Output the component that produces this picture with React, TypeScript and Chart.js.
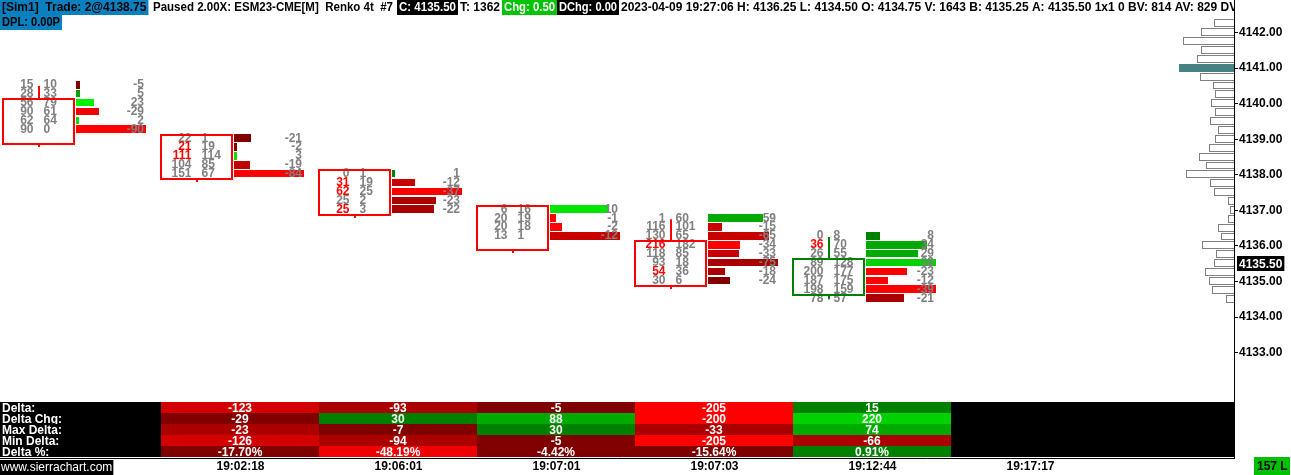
import React, { useEffect, useRef } from 'react';
import { Chart, registerables } from 'chart.js';

Chart.register(...registerables);

// ---------------- data ----------------
const timeLabels = ['19:02:18', '19:06:01', '19:07:01', '19:07:03', '19:12:44', '19:17:17'];
const timeSlots = [1, 2, 3, 4, 5, 6];

const barHigh = [4140.5, 4139.0, 4138.0, 4137.0, 4136.75, 4136.25];
const barOpen = [4140.0, 4139.0, 4138.0, 4137.0, 4136.0, 4134.75];
const barClose = [4139.0, 4138.0, 4137.0, 4136.0, 4135.0, 4135.5];

const bidVolume = [
  [15, 28, 56, 90, 62, 90],
  [22, 21, 111, 104, 151],
  [0, 31, 62, 25, 25],
  [6, 20, 20, 13],
  [1, 116, 130, 216, 118, 93, 54, 30],
  [0, 36, 26, 89, 200, 187, 198, 78],
];
const askVolume = [
  [10, 33, 79, 61, 64, 0],
  [1, 19, 114, 85, 67],
  [1, 19, 25, 2, 3],
  [16, 19, 18, 1],
  [60, 101, 65, 182, 85, 18, 36, 6],
  [8, 70, 55, 128, 177, 175, 159, 57],
];

const tableRowLabels = ['Delta:', 'Delta Chg:', 'Max Delta:', 'Min Delta:', 'Delta %:'];
const tableSlots = [1, 2, 3, 4, 5];
const deltaRow = [-123, -93, -5, -205, 15];
const deltaChgRow = [-29, 30, 88, -200, 220];
const maxDeltaRow = [-23, -7, 30, -33, 74];
const minDeltaRow = [-126, -94, -5, -205, -66];
const deltaPctRow = [-17.7, -48.19, -4.42, -15.64, 0.91];

const profileTop = 4142.25;
const profileVolume = [20, 33, 51, 33, 37, 55, 34, 21, 19, 23, 19, 24, 16, 19, 25, 35, 28, 48, 24, 20, 6, 4, 6, 16, 13, 32, 18, 20, 29, 25, 22, 8];
const profilePoc = 4141.0;

const lastPrice = 4135.5;
const lowestPriceLabel = 4133;

// ---------------- styles ----------------
const histColors = [
  ['#800000', '#00a000', '#00f000', '#f00000', '#00e000', '#ff0000'],
  ['#800000', '#800000', '#00e600', '#c00000', '#ff0000'],
  ['#008000', '#c80000', '#ff0000', '#aa0000', '#aa0000'],
  ['#00e600', '#ff0000', '#ff0000', '#c80000'],
  ['#00aa00', '#c80000', '#c80000', '#ff0000', '#c80000', '#aa0000', '#aa0000', '#800000'],
  ['#008000', '#00aa00', '#00aa00', '#00d200', '#ff0000', '#ff0000', '#ff0000', '#aa0000'],
];
const tableColors = [
  ['#d20000', '#aa0000', '#800000', '#ff0000', '#008000'],
  ['#800000', '#008000', '#00aa00', '#ff0000', '#00d200'],
  ['#aa0000', '#800000', '#008000', '#aa0000', '#00aa00'],
  ['#d20000', '#aa0000', '#800000', '#ff0000', '#aa0000'],
  ['#800000', '#f00000', '#800000', '#800000', '#008000'],
];

const FONT = '"Liberation Sans", Arial, sans-serif';
const GRAY = '#808080';
const TICK = 0.25;
const HALF = TICK / 2;
const SLOT = 158;
const BOX_L = -36 / SLOT;
const BOX_R = 35 / SLOT;
const BID_R = -5.5 / SLOT;
const ASK_L = 4.5 / SLOT;
const HIST_L = 37 / SLOT;
const HIST_W = 70 / SLOT;
const DELTA_R = 105 / SLOT;
const CELL_L = -36 / SLOT;
const LABEL_OFF = 43.5 / SLOT;

const header1 = [
  { text: '[Sim1]  Trade: 2@4138.75', x: 2, w: 145, bg: '#0a80c0', fg: '#000' },
  { text: 'Paused 2.00X: ESM23-CME[M]  Renko 4t  #7', x: 153, w: 240, bg: null, fg: '#000' },
  { text: 'C: 4135.50', x: 399, w: 57, bg: '#000', fg: '#fff' },
  { text: 'T: 1362', x: 460, w: 41, bg: null, fg: '#000' },
  { text: 'Chg: 0.50', x: 504, w: 51, bg: '#00c400', fg: '#fff' },
  { text: 'DChg: 0.00', x: 559, w: 58, bg: '#000', fg: '#fff' },
  { text: '2023-04-09 19:27:06 H: 4136.25 L: 4134.50 O: 4134.75 V: 1643 B: 4135.25 A: 4135.50 1x1 0 BV: 814 AV: 829 DV: 15', x: 621, w: 700, bg: null, fg: '#000' },
];
const header2 = [{ text: 'DPL: 0.00P', x: 2, w: 58, bg: '#0a80c0', fg: '#000' }];

const footprintPlugin = {
  id: 'footprint',
  afterDraw(chart: any) {
    const { ctx, chartArea: ca, scales } = chart;
    const xs = scales.x, ys = scales.y, xp = scales.xp;
    const X = (v: number) => xs.getPixelForValue(v);
    const Y = (v: number) => ys.getPixelForValue(v);

    ctx.save();
    ctx.beginPath();
    ctx.rect(ca.left, ca.top, ca.right - ca.left, ca.bottom - ca.top);
    ctx.clip();

    // volume profile
    ctx.lineWidth = 1;
    profileVolume.forEach((v, j) => {
      const p = profileTop - j * TICK;
      const top = Math.round(Y(p + HALF));
      const bot = Math.round(Y(p - HALF)) - 1;
      const r = Math.round(xp.getPixelForValue(0));
      const l = Math.round(xp.getPixelForValue(v));
      if (Math.abs(p - profilePoc) < 1e-6) {
        ctx.fillStyle = '#468282';
        ctx.fillRect(l, top, r - l, bot - top);
      } else {
        ctx.fillStyle = '#fff';
        ctx.fillRect(l, top, r - l, bot - top);
        ctx.strokeStyle = '#808080';
        ctx.strokeRect(l + 0.5, top + 0.5, r - l, bot - top - 1);
      }
    });

    ctx.font = `bold 12px ${FONT}`;
    ctx.textBaseline = 'middle';

    bidVolume.forEach((bids, i) => {
      const asks = askVolume[i];
      const deltas = bids.map((b, j) => asks[j] - b);
      const maxAbs = Math.max(...deltas.map((d) => Math.abs(d)));
      // histogram
      deltas.forEach((d, j) => {
        const p = barHigh[i] - j * TICK;
        const top = Math.round(Y(p + HALF) - 0.5);
        const bot = Math.round(Y(p - HALF) - 1.8);
        const l = Math.round(X(i + HIST_L));
        let r = Math.round(X(i + HIST_L + (HIST_W * Math.abs(d)) / maxAbs));
        if (r - l < 3) r = l + 3;
        ctx.fillStyle = histColors[i][j];
        ctx.fillRect(l, top, r - l, bot - top);
      });
      // delta text
      ctx.fillStyle = GRAY;
      ctx.textAlign = 'right';
      deltas.forEach((d, j) => {
        const p = barHigh[i] - j * TICK;
        ctx.fillText(String(d), X(i + DELTA_R), Y(p) - 1);
      });
      // bid x ask
      bids.forEach((b, j) => {
        const p = barHigh[i] - j * TICK;
        const imb = j > 0 && b > 0 && b >= 3 * asks[j - 1];
        ctx.textAlign = 'right';
        ctx.fillStyle = imb ? '#ff0000' : GRAY;
        ctx.fillText(String(b), X(i + BID_R), Y(p) - 1);
        ctx.textAlign = 'left';
        ctx.fillStyle = GRAY;
        ctx.fillText(String(asks[j]), X(i + ASK_L), Y(p) - 1);
      });
      // box + wick
      const up = barClose[i] > barOpen[i];
      const color = up ? '#008000' : '#ff0000';
      const hi = Math.max(barOpen[i], barClose[i]) + HALF;
      const lo = Math.min(barOpen[i], barClose[i]) - HALF;
      const l = Math.round(X(i + BOX_L));
      const r = Math.round(X(i + BOX_R));
      const t = Math.round(Y(hi));
      const b = Math.round(Y(lo));
      ctx.strokeStyle = color;
      ctx.lineWidth = 2;
      ctx.strokeRect(l, t, r - l, b - t);
      const cx = Math.round(X(i));
      const yHigh = Y(barHigh[i]);
      const yLow = Y(barHigh[i] - (bids.length - 1) * TICK);
      ctx.beginPath();
      if (yHigh < t) {
        ctx.moveTo(cx, yHigh);
        ctx.lineTo(cx, t);
      }
      ctx.moveTo(cx, b);
      ctx.lineTo(cx, Math.max(yLow, b + 3));
      ctx.stroke();
    });

    // table
    const rows = [deltaRow, deltaChgRow, maxDeltaRow, minDeltaRow, deltaPctRow];
    const rowH = 11;
    const tBot = Math.round(ca.bottom) - 1;
    const tTop = tBot - rowH * rows.length;
    ctx.fillStyle = '#000';
    ctx.fillRect(ca.left, tTop, ca.right - ca.left, tBot - tTop);
    rows.forEach((vals, ri) => {
      const y0 = tTop + ri * rowH;
      vals.forEach((_v, c) => {
        const slot = tableSlots[c];
        const l = Math.round(X(slot + CELL_L));
        const r = Math.round(X(slot + 1 + CELL_L));
        ctx.fillStyle = tableColors[ri][c];
        ctx.fillRect(l, y0, r - l, rowH);
      });
      ctx.save();
      ctx.beginPath();
      ctx.rect(ca.left, y0, ca.right - ca.left, rowH);
      ctx.clip();
      ctx.fillStyle = '#fff';
      ctx.font = `bold 12px ${FONT}`;
      ctx.textBaseline = 'middle';
      ctx.textAlign = 'left';
      ctx.fillText(tableRowLabels[ri], ca.left + 2, y0 + rowH / 2 + 1);
      ctx.textAlign = 'center';
      vals.forEach((v, c) => {
        const slot = tableSlots[c];
        const cxm = (X(slot + CELL_L) + X(slot + 1 + CELL_L)) / 2;
        const txt = ri === 4 ? v.toFixed(2) + '%' : String(v);
        ctx.fillText(txt, cxm, y0 + rowH / 2 + 1);
      });
      ctx.restore();
    });

    // header
    ctx.font = `bold 12px ${FONT}`;
    ctx.textBaseline = 'middle';
    ctx.textAlign = 'left';
    const drawHeader = (segs: any[], yTop: number) => {
      segs.forEach((s) => {
        const w = Math.min(ctx.measureText(s.text).width, s.w);
        if (s.bg) {
          ctx.fillStyle = s.bg;
          ctx.fillRect(s.x - 2, yTop, w + 4, 15);
        }
        ctx.fillStyle = s.fg;
        ctx.fillText(s.text, s.x, yTop + 8, s.w);
      });
    };
    drawHeader(header1, 0);
    drawHeader(header2, 15);
    ctx.restore();

    // last price marker on the axis
    ctx.save();
    ctx.font = `bold 12px ${FONT}`;
    ctx.textBaseline = 'middle';
    ctx.textAlign = 'left';
    const yp = Y(lastPrice);
    const lbl = lastPrice.toFixed(2);
    const lw = ctx.measureText(lbl).width;
    ctx.fillStyle = '#000';
    ctx.fillRect(ca.right + 3, Math.round(yp - 7.5), lw + 4, 15);
    ctx.fillStyle = '#fff';
    ctx.fillText(lbl, ca.right + 5, yp + 0.5);

    // watermark
    ctx.font = `12px ${FONT}`;
    const wm = 'www.sierrachart.com';
    const ww = ctx.measureText(wm).width;
    ctx.fillStyle = '#000';
    ctx.fillRect(0, 460, ww + 2, 15);
    ctx.fillStyle = '#fff';
    ctx.fillText(wm, 1, 468);

    // status box
    ctx.font = `bold 12px ${FONT}`;
    ctx.fillStyle = '#00c000';
    ctx.fillRect(1254, 457, 36, 18);
    ctx.fillStyle = '#000';
    ctx.fillText('157 L', 1257, 466.5);
    ctx.restore();
  },
};

Chart.defaults.font.family = FONT;

export default function App() {
  const ref = useRef<HTMLCanvasElement>(null);
  useEffect(() => {
    const canvas = ref.current as HTMLCanvasElement;
    const chart = new Chart(canvas, {
      type: 'scatter',
      data: { datasets: [] },
      options: {
        animation: false,
        responsive: false,
        devicePixelRatio: 1,
        events: [],
        layout: { padding: 0 },
        plugins: { legend: { display: false }, tooltip: { enabled: false } },
        scales: {
          x: {
            type: 'linear',
            position: 'bottom',
            min: -39 / SLOT,
            max: (1234 - 39) / SLOT,
            afterBuildTicks: (s: any) => {
              s.ticks = timeSlots.map((v) => ({ value: v + LABEL_OFF }));
            },
            afterFit: (s: any) => {
              s.height = 17;
              s.paddingLeft = 0;
              s.paddingRight = 0;
            },
            grid: { display: false, drawTicks: false },
            border: { display: true, color: '#000', width: 1 },
            ticks: {
              autoSkip: false,
              maxRotation: 0,
              padding: 1,
              color: '#000',
              font: { size: 12, weight: 'bold' },
              callback: (_v: any, i: number) => timeLabels[i],
            },
          },
          y: {
            type: 'linear',
            position: 'right',
            min: 4130.035,
            max: 4142.918,
            afterBuildTicks: (s: any) => {
              s.ticks = s.ticks.filter((t: any) => t.value >= lowestPriceLabel);
            },
            afterFit: (s: any) => {
              s.width = 57;
              s.paddingTop = 0;
              s.paddingBottom = 0;
            },
            grid: { display: true, drawOnChartArea: false, drawTicks: true, tickLength: 4, color: '#000' },
            border: { display: true, color: '#000', width: 1 },
            ticks: {
              stepSize: 1,
              includeBounds: false,
              padding: 1,
              color: '#000',
              font: { size: 12, weight: 'bold' },
              callback: (v: any) => Number(v).toFixed(2),
            },
          },
          xp: {
            type: 'linear',
            axis: 'x',
            display: false,
            reverse: true,
            min: 0,
            max: 1234,
          },
        },
      } as any,
      plugins: [footprintPlugin],
    });
    return () => chart.destroy();
  }, []);
  return (
    <div style={{ position: 'fixed', left: 0, top: 0, width: 1291, height: 475, background: '#fff' }}>
      <canvas ref={ref} width={1291} height={475} style={{ display: 'block', width: 1291, height: 475 }} />
    </div>
  );
}
